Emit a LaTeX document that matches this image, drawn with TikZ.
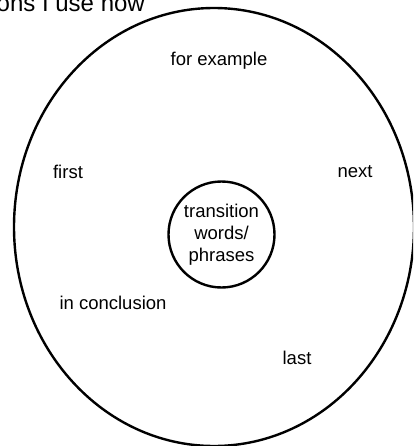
\documentclass[tikz,border=0pt]{standalone}
\usepackage{fontspec}
\setmainfont{Liberation Sans}
\usepackage{tikz}

\begin{document}
\begin{tikzpicture}[x=1pt,y=-1pt]
        \tikzstyle{every node}=[font=\fontsize{18.5}{22}\selectfont,inner sep=0pt]
        \tikzstyle{ring}=[draw,line width=2.4pt]

        \useasboundingbox (0,0) rectangle (413,446);
        \clip (0,0) rectangle (413,446);

        \node[anchor=base east,font=\fontsize{24}{28}\selectfont] (title) at (145,12) {ons I use now};

        \draw[ring] (214,227) ellipse [x radius=200, y radius=219];
        \node[ring,circle,minimum size=106pt,align=center] (hub) at (221.5,234.5) {transition\\words/\\phrases};

        \node (example) at (219,61) {for example};
        \node (first) at (68,172) {first};
        \node (next) at (355,172) {next};
        \node (conclusion) at (113,303) {in conclusion};
        \node (last) at (297,358) {last};
    \end{tikzpicture}
\end{document}
